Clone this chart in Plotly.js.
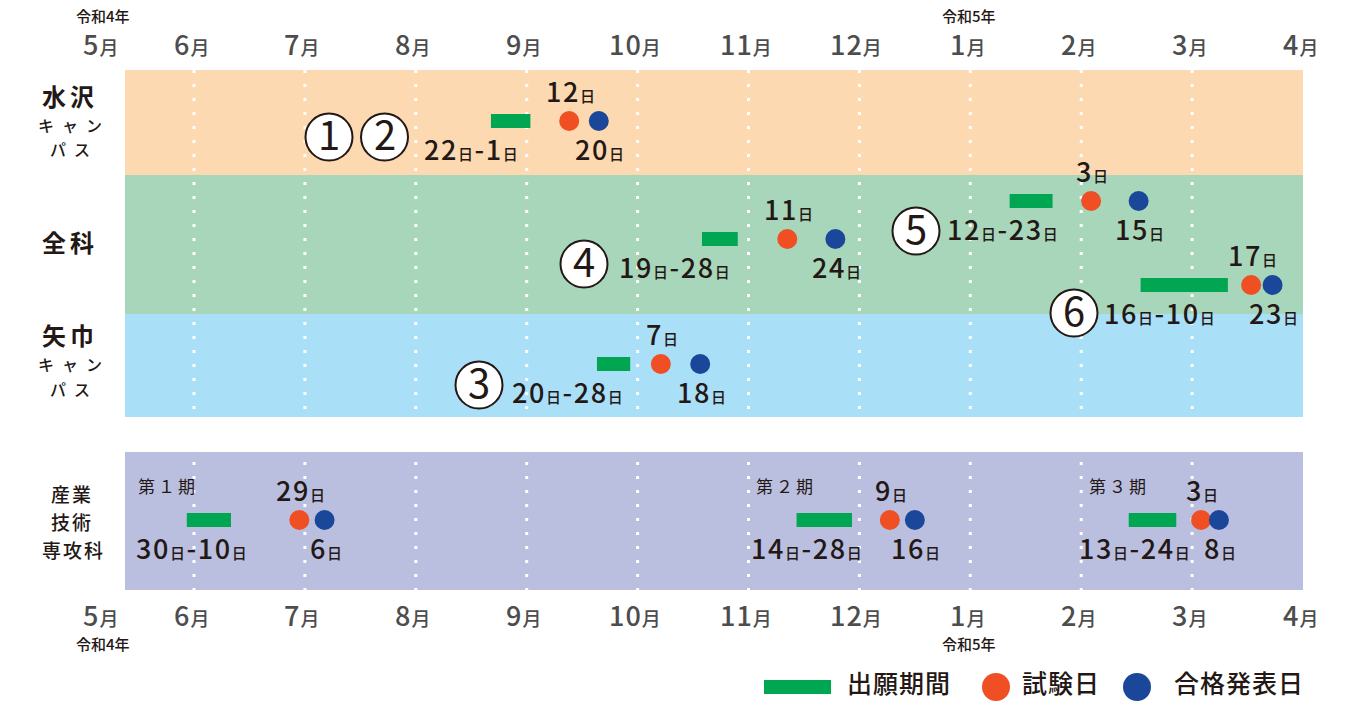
<!DOCTYPE html>
<html><head><meta charset="utf-8">
<script src="https://cdn.plot.ly/plotly-3.0.1.min.js"></script>
<style>html,body{margin:0;padding:0;background:#fff}#chart{width:1357px;height:701px}</style>
</head><body><div id="chart"></div>
<script>
// ---------------- DATA ----------------
const programIds   = ['①②', '③', '④', '⑤', '⑥', '第１期', '第２期', '第３期'];
const programGroup = ['水沢', '矢巾', '全科', '全科', '全科', '産業', '産業', '産業'];
const applyStart   = ['2022-08-22', '2022-09-20', '2022-10-19', '2023-01-12', '2023-02-16', '2022-05-30', '2022-11-14', '2023-02-13'];
const applyEnd     = ['2022-09-01', '2022-09-28', '2022-10-28', '2023-01-23', '2023-03-10', '2022-06-10', '2022-11-28', '2023-02-24'];
const examDate     = ['2022-09-12', '2022-10-07', '2022-11-11', '2023-02-03', '2023-03-17', '2022-06-29', '2022-12-09', '2023-03-03'];
const passDate     = ['2022-09-20', '2022-10-18', '2022-11-24', '2023-02-15', '2023-03-23', '2022-07-06', '2022-12-16', '2023-03-08'];
const monthLabels  = ['5月', '6月', '7月', '8月', '9月', '10月', '11月', '12月', '1月', '2月', '3月', '4月'];
const eraLabels    = ['令和4年', '令和5年'];
const circleIds    = ['1', '2', '3', '4', '5', '6'];
const legendLabels = ['出願期間', '試験日', '合格発表日'];

// ---------------- LAYOUT / STYLE ----------------
const FONT = 'Noto Sans CJK JP, Noto Sans, sans-serif';
const GREEN = '#00A651', ORANGE = '#F04E23', BLUE = '#1B479A', INK = '#231815', GRAY = '#4D4D4D';
const W = 1357, H = 701, PXM = 110.9, JUNE_PX = 194;
const X = px => 1 + (px - JUNE_PX) / PXM;          // pixel -> axis units (layout helper)
const XR0 = X(0), XR1 = X(W);

// month index axis: May 2022 = 0, June = 1, ..., April 2023 = 11
function pos(s, part) {
  const [y, m, d] = s.split('-').map(Number);
  const dim = new Date(y, m, 0).getDate();
  const idx = (y - 2022) * 12 + (m - 5);
  const off = part === 'start' ? d - 1 : part === 'end' ? d : d - 0.5;
  return idx + off / dim;
}
const day = s => Number(s.split('-')[2]);
const LS = "letter-spacing:1.6px";
const num = t => `<span style='${LS}'>${t}</span>`;
const NICHI = `<span style='font-size:15px;${LS}'>日</span>`;
const dayText = s => num(day(s)) + NICHI;
const monthText = m => `<span style='letter-spacing:1px'>${m.replace('月', '')}</span><span style='font-size:19px'>月</span>`;

// lanes (y in pixel units) per program, in programIds order
const laneY = [121, 364, 239, 201, 285, 520, 520, 520];
const applyLabelShift = [-9, -4, -5, 8, -10, -17, -17, -17];
const groupBands = { '水沢': [70, 175, '#FCD9B1'], '全科': [175, 314, '#A8D6BA'], '矢巾': [314, 417, '#AADFF8'], '産業': [452, 590, '#BBBFDF'] };
const BAND_X0 = X(125), BAND_X1 = 11;
const circlePos = [[329, 137], [384.5, 137], [479, 385], [584, 264], [916, 231], [1074, 313]];
const periodLabelPx = { '第１期': 168, '第２期': 786, '第３期': 1119 };

function A(text, x, y, size, color, o = {}) {
  return Object.assign({
    text, x, y, xref: 'x', yref: 'y', showarrow: false, xanchor: 'center', yanchor: 'middle', yshift: 3,
    font: { family: FONT, size, color, weight: 500 }
  }, o);
}

const shapes = [];
const annotations = [];

// bands
Object.keys(groupBands).forEach(g => {
  const [y0, y1, c] = groupBands[g];
  shapes.push({ type: 'rect', xref: 'x', yref: 'y', x0: BAND_X0, x1: BAND_X1, y0, y1, fillcolor: c, line: { width: 0 }, layer: 'below' });
});
// dotted month gridlines
for (let k = 1; k <= 10; k++) {
  shapes.push({ type: 'line', xref: 'x', yref: 'y', x0: k, x1: k, y0: 70, y1: 590, line: { color: '#FFFFFF', width: 3, dash: '3px,11px' }, layer: 'below' });
}

// month labels top & bottom
monthLabels.forEach((m, i) => {
  const x = i === 0 ? X(103) : i;
  annotations.push(A(monthText(m), x, 46, 27, GRAY, { xshift: -3 }));
  annotations.push(A(monthText(m), x, 617, 27, GRAY, { xshift: -3 }));
});
[[eraLabels[0], X(104)], [eraLabels[1], 8]].forEach(([t, x]) => {
  annotations.push(A(t, x, 17, 15, INK, { xshift: -1, yshift: 2 }));
  annotations.push(A(t, x, 645, 15, INK, { xshift: -1, yshift: 2 }));
});

// left group labels
const LX = X(70);
const sp = (t, ls) => `<span style='letter-spacing:${ls}px'>${t}</span>`;
const bold24 = { font: { family: FONT, size: 24, color: INK, weight: 700 } };
annotations.push(A(sp('水沢', 4), LX, 98, 24, INK, bold24));
annotations.push(A(sp('キャン', 8), LX, 128, 16, INK, { xshift: 4 }));
annotations.push(A(sp('パス', 8), LX, 152, 16, INK, { xshift: 4 }));
annotations.push(A(sp('全科', 4), LX, 244, 24, INK, bold24));
annotations.push(A(sp('矢巾', 4), LX, 337, 24, INK, bold24));
annotations.push(A(sp('キャン', 8), LX, 367, 16, INK, { xshift: 4 }));
annotations.push(A(sp('パス', 8), LX, 392, 16, INK, { xshift: 4 }));
annotations.push(A(sp('産業', 2), X(72), 496, 19, INK));
annotations.push(A(sp('技術', 2), X(72), 524, 19, INK));
annotations.push(A(sp('専攻科', 2), X(73), 552, 19, INK));

// circled program numbers
circleIds.forEach((t, i) => {
  const [cx, cy] = circlePos[i];
  shapes.push({ type: 'circle', xref: 'x', yref: 'y', xsizemode: 'pixel', ysizemode: 'pixel', xanchor: X(cx), yanchor: cy,
    x0: -23.5, x1: 23.5, y0: -23.5, y1: 23.5, fillcolor: '#FFFFFF', line: { color: INK, width: 2 }, layer: 'above' });
  annotations.push(A(t, X(cx), cy, 40, INK, { yshift: 4, font: { family: FONT, size: 40, color: INK, weight: 400 } }));
});

// date labels
programIds.forEach((p, i) => {
  const y = laneY[i];
  const isSangyo = programGroup[i] === '産業';
  const s = pos(applyStart[i], 'start'), e = pos(applyEnd[i], 'end');
  const applyTxt = dayText(applyStart[i]) + num('-') + dayText(applyEnd[i]);
  if (isSangyo) {
    annotations.push(A(applyTxt, (s + e) / 2, y + 30, 27, INK, { xshift: applyLabelShift[i] }));
    annotations.push(A(sp(p, 3), X(periodLabelPx[p]), 488, 17, INK, { font: { family: FONT, size: 17, color: INK, weight: 400 } }));
  } else {
    annotations.push(A(applyTxt, e, y + 30, 27, INK, { xanchor: 'right', xshift: applyLabelShift[i] }));
  }
  annotations.push(A(dayText(examDate[i]), pos(examDate[i], 'mid'), y - 28, 27, INK, { xshift: 2 }));
  annotations.push(A(dayText(passDate[i]), pos(passDate[i], 'mid'), y + 30, 27, INK, { xshift: 2 }));
});

// legend (custom)
shapes.push({ type: 'rect', xref: 'x', yref: 'y', x0: X(764), x1: X(831), y0: 680, y1: 694, fillcolor: GREEN, line: { width: 0 } });
shapes.push({ type: 'circle', xref: 'x', yref: 'y', xsizemode: 'pixel', ysizemode: 'pixel', xanchor: X(996), yanchor: 687,
  x0: -14, x1: 14, y0: -14, y1: 14, fillcolor: ORANGE, line: { width: 0 } });
shapes.push({ type: 'circle', xref: 'x', yref: 'y', xsizemode: 'pixel', ysizemode: 'pixel', xanchor: X(1137), yanchor: 687,
  x0: -14, x1: 14, y0: -14, y1: 14, fillcolor: BLUE, line: { width: 0 } });
[[legendLabels[0], 845], [legendLabels[1], 1020], [legendLabels[2], 1172]].forEach(([t, px]) => {
  annotations.push(A(sp(t, 1), X(px), 682, 25, INK, { xanchor: 'left', yshift: 0 }));
});

// ---------------- TRACES ----------------
const traces = [
  { type: 'bar', orientation: 'h', name: legendLabels[0], y: laneY,
    base: applyStart.map(s => pos(s, 'start')),
    x: applyStart.map((s, i) => pos(applyEnd[i], 'end') - pos(s, 'start')),
    width: 14, marker: { color: GREEN, line: { width: 0 } }, hoverinfo: 'skip' },
  { type: 'scatter', mode: 'markers', name: legendLabels[1], x: examDate.map(s => pos(s, 'mid')), y: laneY,
    marker: { size: 20, color: ORANGE, line: { width: 0 } }, hoverinfo: 'skip' },
  { type: 'scatter', mode: 'markers', name: legendLabels[2], x: passDate.map(s => pos(s, 'mid')), y: laneY,
    marker: { size: 20, color: BLUE, line: { width: 0 } }, hoverinfo: 'skip' }
];

const layout = {
  width: W, height: H, margin: { l: 0, r: 0, t: 0, b: 0 },
  paper_bgcolor: '#FFFFFF', plot_bgcolor: 'rgba(0,0,0,0)', showlegend: false,
  xaxis: { range: [XR0, XR1], autorange: false, showgrid: false, zeroline: false, showticklabels: false, showline: false, fixedrange: true },
  yaxis: { range: [H, 0], autorange: false, showgrid: false, zeroline: false, showticklabels: false, showline: false, fixedrange: true },
  shapes, annotations, font: { family: FONT }
};
Plotly.newPlot('chart', traces, layout, { displayModeBar: false, staticPlot: true });
</script></body></html>
